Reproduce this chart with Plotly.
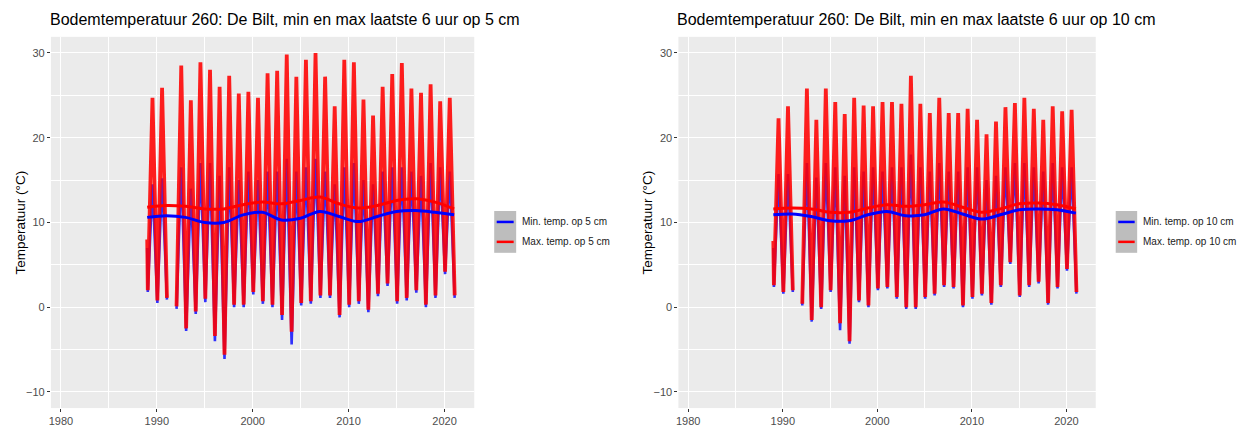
import plotly.graph_objects as go

# ---------------- data ----------------
YEARS = list(range(1989, 2022))          # winters 1989..2021 (troughs)
PEAK_YEARS = list(range(1989, 2021))     # summers 1989..2020 (peaks)
TROUGH_FRAC = 0.06                        # late January
PEAK_FRAC = 0.55                          # mid July

# 5 cm
max5_first = 8.0
min5_first = 7.0
max5_trough = [2.0, 0.8, 1.1, 0.1, -2.5, -0.5, 1.0, -3.4, -5.6, 0.3, 0.3, 1.8, 0.7, 0.3, -0.9, -2.9,
               0.5, 0.7, 1.4, 1.4, -0.9, 0.3, 0.7, -0.3, 1.6, 2.8, 0.7, 1.1, 2.0, 0.3, 1.4, 4.2, 1.4]
min5_trough = [1.8, 0.5, 0.9, -0.2, -2.8, -0.8, 0.6, -4.0, -6.1, 0.0, 0.0, 1.5, 0.4, 0.0, -1.5, -4.4,
               0.2, 0.4, 1.1, 1.1, -1.2, 0.0, 0.4, -0.6, 1.3, 2.5, 0.4, 0.8, 1.7, 0.0, 1.1, 3.9, 1.1]
max5_peak = [24.7, 25.9, None, 28.5, 24.4, 28.9, 28.0, 26.0, 27.3, 25.2, 25.4, 24.7, 27.6, 27.9, 29.8, 27.2,
             29.2, 30.0, 27.2, 23.7, 29.2, 28.9, 24.5, 22.6, 26.0, 27.5, 28.8, 25.8, 25.3, 26.3, 24.3, 24.7]
min5_peak = [14.5, 15.2, None, 16.5, 14.0, 17.0, 17.0, 15.5, 16.5, 15.0, 16.0, 15.0, 16.0, 16.0, 17.5, 16.0,
             16.5, 17.5, 16.0, 14.5, 16.5, 17.0, 15.0, 14.5, 16.0, 16.5, 16.5, 16.0, 15.5, 17.0, 16.5, 16.0]

# 10 cm
max10_first = 7.8
min10_first = 7.0
max10_trough = [2.6, 1.8, 2.0, 0.4, -1.5, 0.0, 2.0, -1.9, -4.0, 0.8, 0.2, 2.2, 2.4, 1.2, 0.0, 0.0,
                1.2, 1.6, 2.6, 2.4, 0.2, 1.2, 1.6, 0.5, 2.6, 5.3, 1.4, 2.6, 3.0, 0.5, 2.4, 4.5, 1.8]
min10_trough = [2.4, 1.6, 1.8, 0.2, -1.7, -0.2, 1.8, -2.7, -4.3, 0.6, 0.0, 2.0, 2.2, 1.0, -0.2, -0.2,
                1.0, 1.4, 2.4, 2.2, 0.0, 1.0, 1.4, 0.3, 2.4, 5.1, 1.2, 2.4, 2.8, 0.3, 2.2, 4.3, 1.6]
max10_peak = [22.3, 23.7, None, 25.8, 22.1, 25.8, 24.2, 22.8, 24.7, 23.8, 23.7, 24.2, 24.2, 24.0, 27.3, 24.0,
              22.9, 24.7, 22.9, 22.9, 23.4, 22.1, 20.4, 21.9, 23.6, 24.1, 24.7, 23.4, 22.1, 23.7, 23.1, 23.3]
min10_peak = [15.7, 15.7, None, 17.0, 15.3, 17.0, 16.5, 15.5, 16.5, 16.0, 16.5, 16.0, 16.5, 16.5, 18.0, 16.5,
              16.0, 17.0, 16.0, 16.0, 16.5, 16.5, 15.0, 15.5, 16.5, 17.0, 17.0, 16.5, 16.0, 17.0, 16.5, 16.5]

# smoothed trend lines
SMOOTH_YEARS = [1989, 1991, 1993, 1995, 1997, 1999, 2001, 2003, 2005, 2007, 2009, 2011, 2013, 2015, 2017, 2019, 2021]
max5_smooth = [11.8, 12.0, 11.9, 11.6, 11.6, 12.1, 12.4, 12.2, 12.6, 13.0, 12.2, 11.7, 12.0, 12.6, 12.8, 12.4, 11.6]
min5_smooth = [10.6, 10.8, 10.6, 10.0, 10.0, 10.9, 11.2, 10.3, 10.5, 11.3, 10.7, 10.1, 10.7, 11.3, 11.4, 11.2, 10.9]
max10_smooth = [11.6, 11.7, 11.6, 11.2, 11.2, 11.7, 12.1, 11.9, 12.1, 12.4, 11.8, 11.2, 11.6, 12.2, 12.3, 12.1, 11.6]
min10_smooth = [10.9, 11.0, 10.7, 10.2, 10.2, 10.9, 11.3, 10.8, 10.9, 11.6, 11.0, 10.4, 10.9, 11.5, 11.6, 11.5, 11.1]

TITLES = ["Bodemtemperatuur 260: De Bilt, min en max laatste 6 uur op 5 cm",
          "Bodemtemperatuur 260: De Bilt, min en max laatste 6 uur op 10 cm"]
LEGEND_MIN = ["Min. temp. op 5 cm", "Min. temp. op 10 cm"]
LEGEND_MAX = ["Max. temp. op 5 cm", "Max. temp. op 10 cm"]
Y_TITLE = "Temperatuur (°C)"
X_TICKS = [1980, 1990, 2000, 2010, 2020]
Y_TICKS = [-10, 0, 10, 20, 30]


def build(first, troughs, peaks):
    xs, ys = [YEARS[0]], [first]
    for i, yr in enumerate(YEARS):
        xs.append(yr + TROUGH_FRAC)
        ys.append(troughs[i])
        if i < len(peaks):
            xs.append(yr + PEAK_FRAC)
            ys.append(peaks[i])
    return xs, ys


W, H = 1242, 427
FONT = "Liberation Sans, Arial, sans-serif"


def px(x):
    return x / W


def py(y):
    return 1 - y / H


fig = go.Figure()

panels = [
    dict(xa="x", ya="y", mn=(min5_first, min5_trough, min5_peak), mx=(max5_first, max5_trough, max5_peak),
         smn=min5_smooth, smx=max5_smooth),
    dict(xa="x2", ya="y2", mn=(min10_first, min10_trough, min10_peak), mx=(max10_first, max10_trough, max10_peak),
         smn=min10_smooth, smx=max10_smooth),
]

for p in panels:
    x, y = build(*p["mn"])
    fig.add_trace(go.Scatter(x=x, y=y, mode="lines", xaxis=p["xa"], yaxis=p["ya"],
                             line=dict(color="rgba(0,0,255,0.8)", width=2.6), connectgaps=False,
                             showlegend=False, hoverinfo="skip"))
    x, y = build(*p["mx"])
    fig.add_trace(go.Scatter(x=x, y=y, mode="lines", xaxis=p["xa"], yaxis=p["ya"],
                             line=dict(color="rgba(255,0,0,0.88)", width=3.8), connectgaps=False,
                             showlegend=False, hoverinfo="skip"))
    fig.add_trace(go.Scatter(x=SMOOTH_YEARS, y=p["smn"], mode="lines", xaxis=p["xa"], yaxis=p["ya"],
                             line=dict(color="#0000FF", width=3, shape="spline"), showlegend=False))
    fig.add_trace(go.Scatter(x=SMOOTH_YEARS, y=p["smx"], mode="lines", xaxis=p["xa"], yaxis=p["ya"],
                             line=dict(color="#FF0000", width=3, shape="spline"), showlegend=False))

# layout geometry (pixels)
PANEL_X = [(49, 473), (677.5, 1095.5)]
PANEL_Y = (37, 410)
XRANGE = [1978.96, 2023.1]
YRANGE = [-11.9, 31.9]

axis_common = dict(showgrid=True, gridcolor="white", gridwidth=1.1, zeroline=False,
                   ticks="outside", ticklen=3, tickwidth=1, tickcolor="#333333",
                   tickfont=dict(family=FONT, size=11, color="#4D4D4D"),
                   showline=False, fixedrange=True)

layout = dict(width=W, height=H, margin=dict(l=0, r=0, t=0, b=0),
              paper_bgcolor="white", plot_bgcolor="#EBEBEB", showlegend=False)

for i, (suffix, (x0, x1)) in enumerate(zip(["", "2"], PANEL_X)):
    layout["xaxis" + suffix] = dict(axis_common, domain=[px(x0), px(x1)], range=XRANGE,
                                    tickvals=X_TICKS, anchor="y" + suffix,
                                    minor=dict(dtick=5, tick0=1975, showgrid=True, gridcolor="white",
                                               gridwidth=0.5, ticks=""))
    layout["yaxis" + suffix] = dict(axis_common, domain=[py(PANEL_Y[1]), py(PANEL_Y[0])], range=YRANGE,
                                    tickvals=Y_TICKS, anchor="x" + suffix,
                                    minor=dict(dtick=5, tick0=-15, showgrid=True, gridcolor="white",
                                               gridwidth=0.5, ticks=""))

fig.update_layout(**layout)

annotations = []
shapes = []
LEG = [dict(kx=(493, 515), tx=521), dict(kx=(1115.5, 1137), tx=1143)]
YT_X = [18, 646]
for i in range(2):
    x0, x1 = PANEL_X[i]
    annotations.append(dict(text=TITLES[i], x=px(x0 - 3), y=py(20), xref="paper", yref="paper",
                            xanchor="left", yanchor="middle", showarrow=False,
                            font=dict(family=FONT, size=16, color="black")))
    annotations.append(dict(text=Y_TITLE, x=px(YT_X[i]), y=py((PANEL_Y[0] + PANEL_Y[1]) / 2),
                            xref="paper", yref="paper", xanchor="center", yanchor="middle",
                            textangle=-90, showarrow=False,
                            font=dict(family=FONT, size=13.5, color="black")))
    kx0, kx1 = LEG[i]["kx"]
    shapes.append(dict(type="rect", xref="paper", yref="paper", x0=px(kx0), x1=px(kx1),
                       y0=py(254), y1=py(212), fillcolor="#BDBDBD", line=dict(width=0)))
    for yy, col, txt in [(223, "#0000FF", LEGEND_MIN[i]), (243, "#FF0000", LEGEND_MAX[i])]:
        shapes.append(dict(type="line", xref="paper", yref="paper", x0=px(kx0 + 2.5), x1=px(kx1 - 2.5),
                           y0=py(yy), y1=py(yy), line=dict(color=col, width=2.5)))
        annotations.append(dict(text=txt, x=px(LEG[i]["tx"] - 2), y=py(yy), xref="paper", yref="paper",
                                xanchor="left", yanchor="middle", showarrow=False,
                                font=dict(family=FONT, size=10, color="#1A1A1A")))

fig.update_layout(annotations=annotations, shapes=shapes)
fig.write_html("out.html")
